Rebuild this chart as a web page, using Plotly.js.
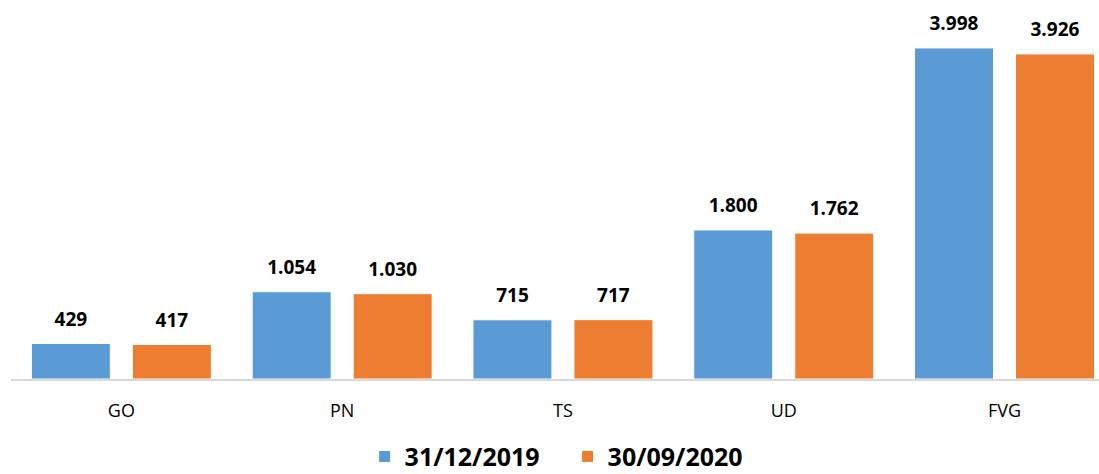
<!DOCTYPE html>
<html>
<head>
<meta charset="utf-8">
<script src="https://cdn.plot.ly/plotly-3.0.1.min.js"></script>
<style>html,body{margin:0;padding:0;background:#fff;}#chart{width:1099px;height:474px;}</style>
</head>
<body>
<div id="chart"></div>
<script>
var categories = ["GO", "PN", "TS", "UD", "FVG"];
var seriesNames = ["31/12/2019", "30/09/2020"];
var values2019 = [429, 1054, 715, 1800, 3998];
var values2020 = [417, 1030, 717, 1762, 3926];
var colors = ["#5b9bd5", "#ed7d31"];

var FONT = "Open Sans, Liberation Sans, sans-serif";

function mk(name, vals, color) {
  return {
    type: "bar",
    name: name,
    x: categories,
    y: vals,
    marker: {color: color, line: {color: "#ffffff", width: 1}},
    texttemplate: "<span style='font-size:19px'><b>%{y:,}</b></span><br> ",
    textposition: "outside",
    constraintext: "none",
    cliponaxis: false,
    textfont: {family: FONT, size: 9, color: "#000"},
    hoverinfo: "none"
  };
}

var data = [mk(seriesNames[0], values2019, colors[0]), mk(seriesNames[1], values2020, colors[1])];

var layout = {
  width: 1099, height: 474,
  margin: {l: 11, r: 0, t: 0, b: 95, autoexpand: false},
  separators: ",.",
  barmode: "group",
  bargap: 0.085,
  bargroupgap: 0.218,
  paper_bgcolor: "#fff",
  plot_bgcolor: "#fff",
  showlegend: true,
  legend: {
    orientation: "h",
    x: 0.325, xanchor: "left",
    y: -0.205, yanchor: "middle",
    entrywidth: 158,
    entrywidthmode: "pixels",
    font: {family: FONT, size: 25, color: "#000", weight: "bold"},
    traceorder: "normal"
  },
  xaxis: {
    type: "category",
    range: [-0.5, 4.428],
    showline: true, linecolor: "#d9d9d9", linewidth: 2,
    ticks: "", showgrid: false, zeroline: false,
    tickfont: {family: FONT, size: 18, color: "#000"},
    ticklabelstandoff: 14
  },
  yaxis: {
    range: [0, 4577],
    showticklabels: false, showgrid: false, zeroline: false, showline: false, ticks: ""
  }
};

Plotly.newPlot("chart", data, layout, {displayModeBar: false, staticPlot: true});
</script>
</body>
</html>
